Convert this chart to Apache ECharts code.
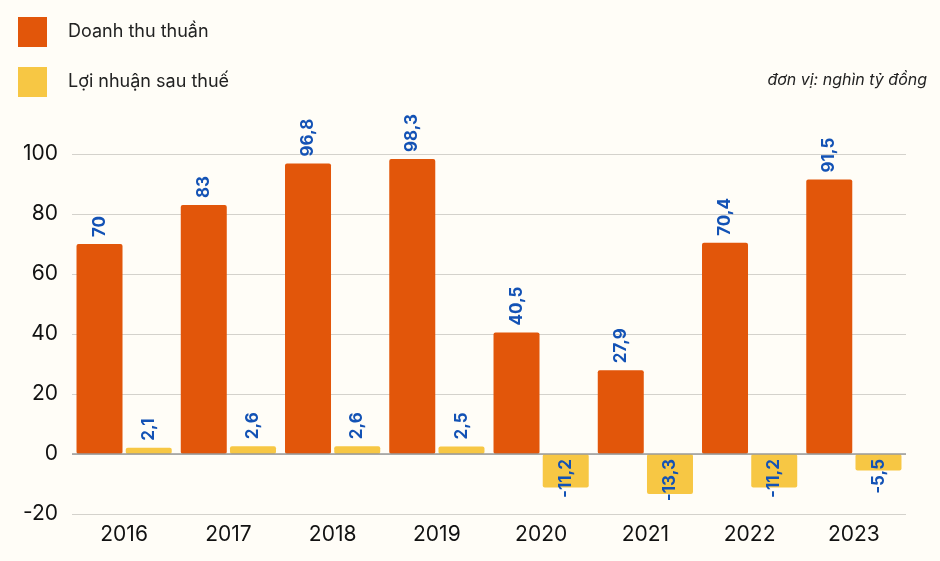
<!DOCTYPE html>
<html>
<head>
<meta charset="utf-8">
<script src="https://cdn.jsdelivr.net/npm/echarts@6/dist/echarts.min.js"></script>
<style>
html,body{margin:0;padding:0;background:#FFFDF7;}
#c{width:940px;height:561px;}
</style>
</head>
<body>
<div id="c"></div>
<script>
const categories = ['2016','2017','2018','2019','2020','2021','2022','2023'];
const revenue = [70, 83, 96.8, 98.3, 40.5, 27.9, 70.4, 91.5];
const profit = [2.1, 2.6, 2.6, 2.5, -11.2, -13.3, -11.2, -5.5];
const yTicks = [-20, 0, 20, 40, 60, 80, 100];
const seriesNames = ['Doanh thu thuần', 'Lợi nhuận sau thuế'];
const unitText = 'đơn vị: nghìn tỷ đồng';

const FONT = 'Inter, "Noto Sans", sans-serif';
const LABEL_COLOR = '#1352B5';

function fmt(v){ return String(v).replace('.', ','); }

const posLabel = {
  show: true, position: 'top', distance: 7, rotate: 90,
  align: 'left', verticalAlign: 'middle',
  color: LABEL_COLOR, fontFamily: FONT, fontSize: 17, fontWeight: 'bold',
  formatter: p => fmt(p.value)
};
const negLabel = {
  show: true, position: 'insideTop', distance: 5, rotate: 90,
  align: 'right', verticalAlign: 'middle',
  color: LABEL_COLOR, fontFamily: FONT, fontSize: 17, fontWeight: 'bold',
  formatter: p => fmt(p.value)
};

function withLabels(arr){
  return arr.map(v => ({ value: v, label: v < 0 ? negLabel : posLabel }));
}

const chart = echarts.init(document.getElementById('c'));
chart.setOption({
  backgroundColor: '#FFFDF7',
  animation: false,
  textStyle: { fontFamily: FONT },
  title: {
    text: unitText, right: 8, top: 67,
    textStyle: { fontFamily: FONT, fontSize: 16, fontStyle: 'italic', fontWeight: 'normal', color: '#222' }
  },
  legend: {
    orient: 'vertical', left: 18, top: 17, padding: 0,
    itemWidth: 29, itemHeight: 30, itemGap: 20,
    icon: 'rect',
    data: seriesNames,
    textStyle: { fontFamily: FONT, fontSize: 18, color: '#222', padding: [0, 0, 0, 16] }
  },
  grid: { left: 72, right: 34, top: 154, bottom: 47 },
  xAxis: {
    type: 'category', data: categories,
    axisLine: { show: false }, axisTick: { show: false },
    axisLabel: { fontFamily: FONT, fontSize: 21, color: '#111', margin: 10 }
  },
  yAxis: {
    type: 'value', min: yTicks[0], max: yTicks[yTicks.length - 1], interval: 20,
    axisLine: { show: false }, axisTick: { show: false },
    axisLabel: { fontFamily: FONT, fontSize: 21, color: '#111', margin: 14 },
    splitLine: { lineStyle: { color: '#D4D2CC', width: 1 } }
  },
  series: [
    {
      name: seriesNames[0], type: 'bar', data: withLabels(revenue),
      barWidth: 46, barGap: '7%', barCategoryGap: '8%',
      itemStyle: { color: '#E2560A', borderRadius: 2 },
      markLine: {
        silent: true, symbol: 'none', label: { show: false },
        lineStyle: { color: '#9A9A9A', width: 1.5, type: 'solid' },
        data: [{ yAxis: 0 }]
      }
    },
    {
      name: seriesNames[1], type: 'bar', data: withLabels(profit),
      barWidth: 46,
      itemStyle: { color: '#F7C744', borderRadius: 2 }
    }
  ]
});
</script>
</body>
</html>
